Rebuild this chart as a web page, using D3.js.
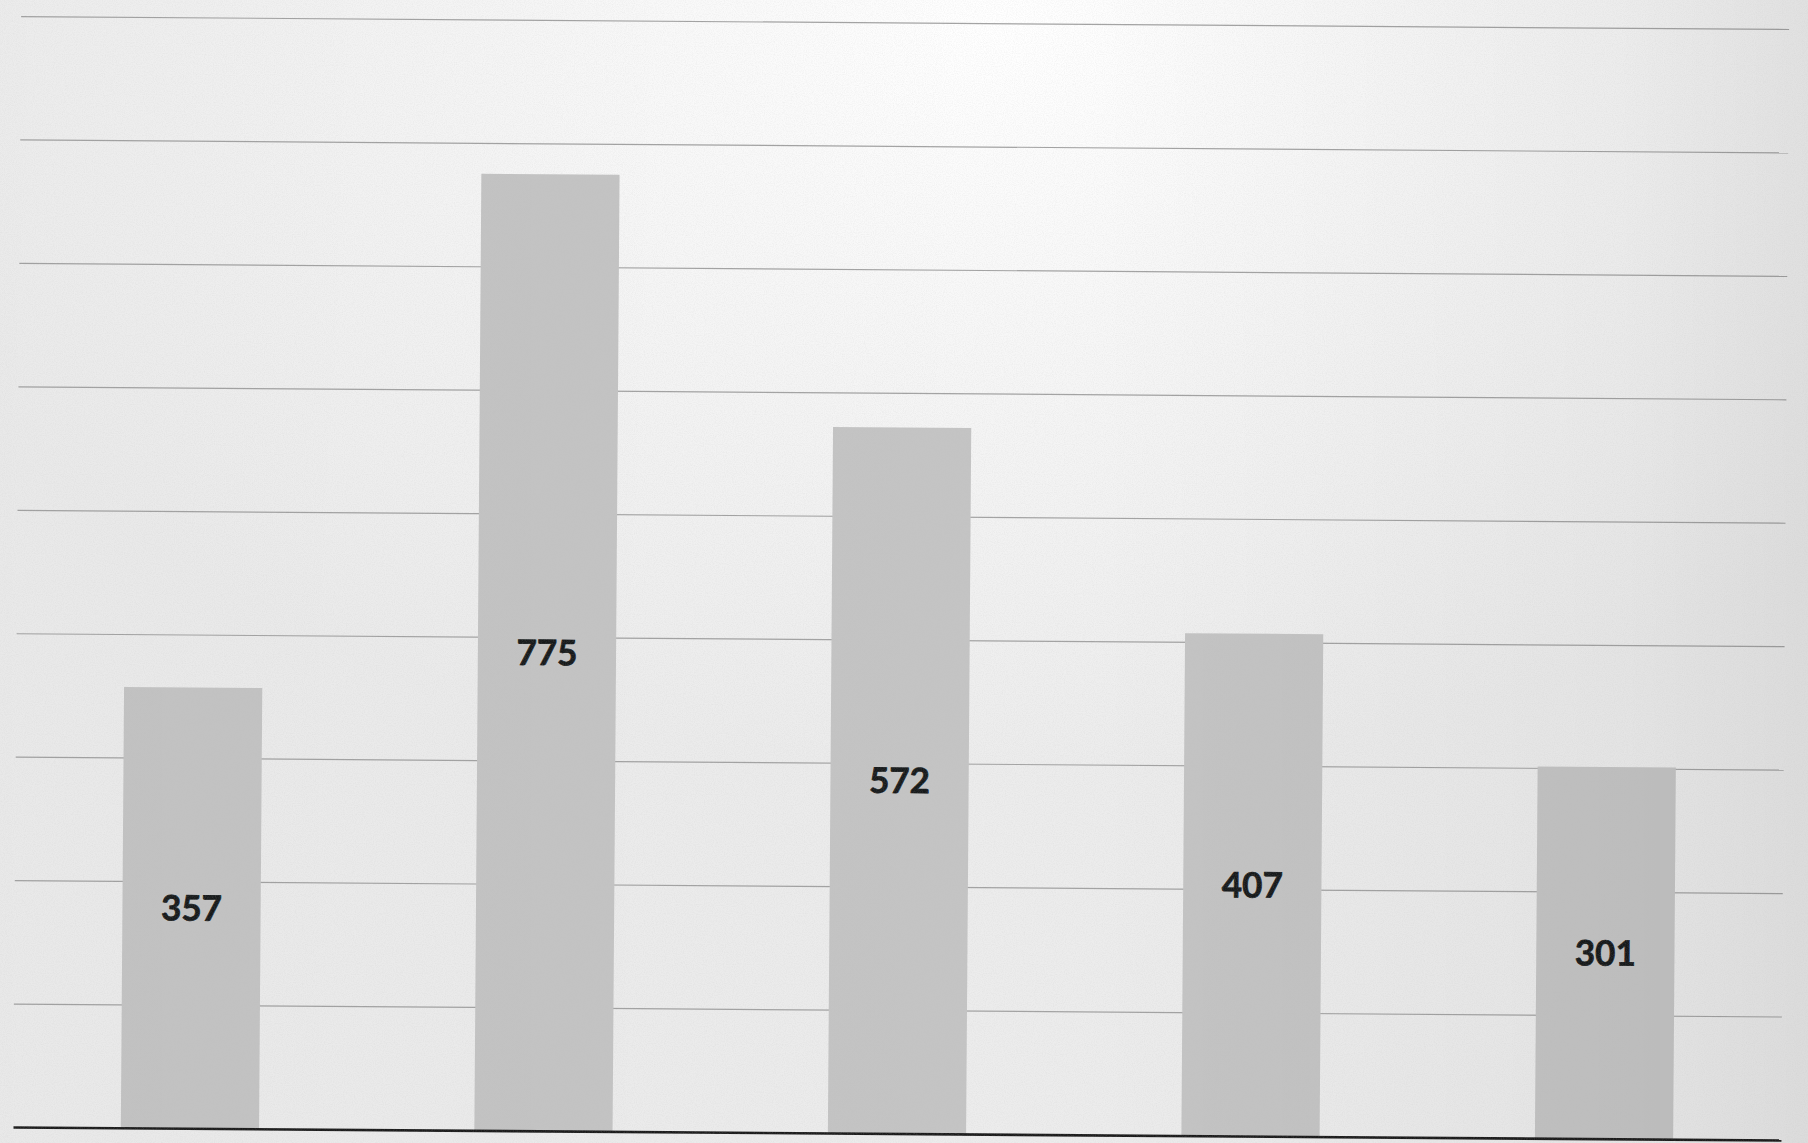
<!DOCTYPE html>
<html>
<head>
<meta charset="utf-8">
<script src="https://cdn.jsdelivr.net/npm/d3@7"></script>
<style>
  html, body { margin: 0; padding: 0; background: #eeeeee; overflow: hidden; }
  svg { display: block; }
</style>
</head>
<body>
<svg id="chart" width="1808" height="1143"></svg>
<script>
// Data
const categories = ["1", "2", "3", "4", "5"];
const values = [357, 775, 572, 407, 301];
const gridTicks = [100, 200, 300, 400, 500, 600, 700, 800, 900];

const W = 1808, H = 1143;
const plotLeft = 13, plotRight = 1781, plotBase = 1127, plotTop = 16;

const svg = d3.select("#chart");
const defs = svg.append("defs");

// Paper tone: bright patch toward the top, a touch darker toward the edges
const glow = defs.append("radialGradient").attr("id", "glow")
  .attr("cx", "0.55").attr("cy", "0.02").attr("r", "0.65");
glow.append("stop").attr("offset", "0").attr("stop-color", "#ffffff");
glow.append("stop").attr("offset", "0.5").attr("stop-color", "#f5f5f5");
glow.append("stop").attr("offset", "1").attr("stop-color", "#ececec");

const shade = defs.append("linearGradient").attr("id", "shade")
  .attr("x1", "0").attr("x2", "1").attr("y1", "0").attr("y2", "0");
shade.append("stop").attr("offset", "0").attr("stop-color", "#000").attr("stop-opacity", 0.015);
shade.append("stop").attr("offset", "0.6").attr("stop-color", "#000").attr("stop-opacity", 0.0);
shade.append("stop").attr("offset", "0.9").attr("stop-color", "#000").attr("stop-opacity", 0.035);
shade.append("stop").attr("offset", "1").attr("stop-color", "#000").attr("stop-opacity", 0.07);

// Fine grain
const grain = defs.append("filter").attr("id", "grain")
  .attr("x", 0).attr("y", 0).attr("width", "100%").attr("height", "100%");
grain.append("feTurbulence").attr("type", "fractalNoise")
  .attr("baseFrequency", 0.9).attr("numOctaves", 2).attr("seed", 7);
grain.append("feColorMatrix").attr("type", "matrix")
  .attr("values", "0 0 0 0 0.5  0 0 0 0 0.5  0 0 0 0 0.5  0 0 0 -1.6 1.0");

svg.append("rect").attr("width", W).attr("height", H).attr("fill", "url(#glow)");

// Scales
const x = d3.scaleBand().domain(categories).range([plotLeft, plotRight])
  .paddingInner(0.609).paddingOuter(0.305);
const y = d3.scaleLinear().domain([0, 900]).range([plotBase, plotTop]);

// Everything sits slightly skewed, as on the printed sheet
const g = svg.append("g").attr("transform", `rotate(0.42, ${plotLeft}, ${plotBase})`);

// Horizontal gridlines
const grid = g.append("g").attr("transform", `translate(${plotLeft},0)`)
  .call(d3.axisLeft(y).tickValues(gridTicks).tickSize(-(plotRight - plotLeft)).tickFormat(""));
grid.select(".domain").remove();
grid.selectAll(".tick line").attr("stroke", "#a2a2a2").attr("stroke-width", 1.2);

// Bars
g.append("g").selectAll("rect").data(values).join("rect")
  .attr("x", (d, i) => x(categories[i]))
  .attr("width", x.bandwidth())
  .attr("y", d => y(d))
  .attr("height", d => y(0) - y(d))
  .attr("fill", "#c4c4c4");

// Value labels, centred inside each bar
g.append("g").selectAll("text").data(values).join("text")
  .attr("x", (d, i) => x(categories[i]) + x.bandwidth() / 2)
  .attr("y", d => (y(d) + y(0)) / 2)
  .attr("dy", "0.36em")
  .attr("text-anchor", "middle")
  .attr("font-family", "Lato, 'Open Sans', sans-serif")
  .attr("font-weight", 700)
  .attr("font-size", 35)
  .attr("fill", "#16191a")
  .attr("stroke", "#16191a")
  .attr("stroke-width", 0.7)
  .text(d => d);

// Category axis line
const xAxis = g.append("g").attr("transform", `translate(0,${y(0)})`)
  .call(d3.axisBottom(x).tickSize(0).tickSizeOuter(0).tickFormat(""));
xAxis.select(".domain").attr("stroke", "#1b1b1b").attr("stroke-width", 2.6);

// Scan shading and grain over the whole sheet
svg.append("rect").attr("width", W).attr("height", H)
  .attr("fill", "url(#shade)").attr("pointer-events", "none");
svg.append("rect").attr("width", W).attr("height", H)
  .attr("filter", "url(#grain)").attr("opacity", 0.18).attr("pointer-events", "none");
</script>
</body>
</html>
